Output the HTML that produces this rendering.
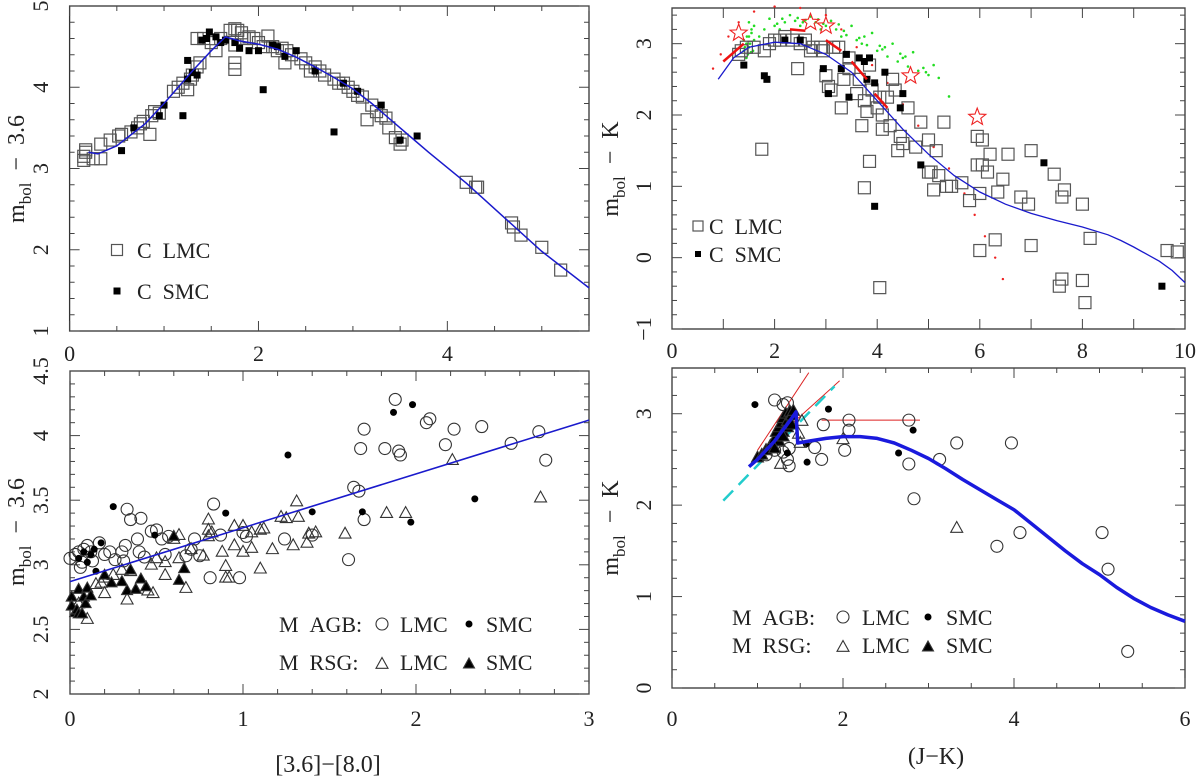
<!DOCTYPE html>
<html><head><meta charset="utf-8"><style>
html,body{margin:0;padding:0;background:#fff;}
svg{display:block;}
text{font-family:"Liberation Serif",serif;fill:#222;white-space:pre;}
</style></head><body>
<svg id="fig" xmlns="http://www.w3.org/2000/svg" width="1200" height="778" viewBox="0 0 1200 778"></svg>
<script>
// ---------- Panel A: C stars, [3.6]-[8.0] vs mbol-3.6 ----------
const aCurveX=[0.2,0.3,0.5,0.8,1.0,1.15,1.3,1.5,1.65,1.8,2.0,2.2,2.4,2.6,2.8,3.0,3.2,3.4,3.6,3.8,4.2,4.6,5.0,5.5];
const aCurveY=[3.2,3.18,3.28,3.55,3.8,4.0,4.2,4.45,4.62,4.57,4.53,4.47,4.37,4.25,4.12,3.98,3.8,3.6,3.4,3.2,2.82,2.4,1.98,1.53];
const aLmcX=[0.15,0.15,0.17,0.17,0.25,0.33,0.33,0.43,0.52,0.55,0.65,0.72,0.75,0.78,0.85,0.87,0.9,0.95,1.1,1.15,1.2,1.25,1.28,1.3,1.35,1.38,1.35,1.42,1.5,1.55,1.6,1.7,1.75,1.78,1.82,1.85,1.9,1.95,2.0,1.75,1.75,1.75,2.05,2.1,2.15,2.2,2.25,2.3,2.28,2.35,2.45,2.5,2.55,2.6,2.65,2.7,2.8,2.85,2.9,2.95,3.0,3.05,3.1,3.15,3.2,3.25,3.3,3.35,3.38,3.45,3.5,3.52,4.2,4.3,4.32,4.68,4.7,4.78,5.0,5.2];
const aLmcY=[3.1,3.15,3.2,3.23,3.12,3.12,3.3,3.35,3.4,3.42,3.45,3.5,3.55,3.58,3.42,3.65,3.7,3.68,3.95,4.0,4.05,3.97,4.1,4.15,4.25,4.3,4.6,4.6,4.55,4.45,4.6,4.7,4.72,4.7,4.67,4.6,4.62,4.6,4.55,4.3,4.22,4.52,4.5,4.63,4.5,4.45,4.48,4.45,4.3,4.4,4.35,4.3,4.2,4.25,4.2,4.15,4.1,4.05,4.05,4.0,3.95,3.9,3.88,3.6,3.78,3.7,3.65,3.62,3.5,3.38,3.3,3.35,2.83,2.77,2.77,2.33,2.28,2.18,2.03,1.75];
const aSmcX=[0.55,0.68,0.95,1.0,1.2,1.25,1.25,1.3,1.35,1.4,1.45,1.48,1.55,1.6,1.65,1.75,1.8,1.9,2.0,2.05,2.15,2.2,2.28,2.4,2.6,2.8,2.9,3.05,3.3,3.5,3.68];
const aSmcY=[3.22,3.5,3.65,3.78,3.65,4.1,4.33,4.18,4.15,4.58,4.6,4.68,4.62,4.55,4.58,4.55,4.48,4.45,4.45,3.97,4.52,4.5,4.38,4.45,4.2,3.45,4.05,3.95,3.78,3.35,3.4];
const aXTicks=["0","2","4"];const aYTicks=["1","2","3","4","5"];

// ---------- Panel B: C stars, J-K vs mbol-K ----------
const bCurveX=[0.9,1.2,1.5,2.0,2.5,3.0,3.5,4.0,4.5,5.0,5.5,6.0,6.5,7.0,7.5,8.0,8.5,8.75,9.0,9.25,9.5,9.75,10.0];
const bCurveY=[2.5,2.8,2.95,3.02,3.0,2.85,2.6,2.2,1.8,1.45,1.15,0.92,0.75,0.62,0.52,0.43,0.32,0.24,0.15,0.05,-0.05,-0.18,-0.35];
const bRedDotX=[0.8,0.95,1.1,1.3,1.6,2.0,2.5,3.0,3.3,3.6,3.9,4.2,4.5,4.8,5.1,5.4,5.7,5.9,6.1,6.3,6.45];
const bRedDotY=[2.65,2.85,3.1,3.3,3.45,3.52,3.5,3.4,3.2,2.95,2.7,2.45,2.15,1.85,1.55,1.25,0.9,0.6,0.3,0.0,-0.3];
const bGreenX=[1.4,1.45,1.5,1.55,1.6,1.45,1.5,1.55,1.4,1.6,1.5,1.48,1.42,1.52,1.58,1.46,1.54,1.8,2.0,2.2,2.4,2.6,2.8,3.0,3.2,3.4,3.6,3.8,4.0,4.2,4.4,4.6,4.8,5.0,5.2,1.9,2.3,2.7,3.1,3.5,3.9,4.3,4.7,5.1,2.1,2.5,2.9,3.3,3.7,4.1,4.5,4.9,5.4,1.7,2.15,2.55,2.95,3.35,3.75,4.15,4.55,4.95,2.05,2.45,2.85,3.25,3.65,4.05,4.45];
const bGreenY=[2.9,3.0,3.1,3.2,3.05,2.8,2.95,3.15,3.05,3.25,3.3,2.85,2.95,3.0,2.9,3.1,2.88,3.2,3.25,3.3,3.32,3.33,3.3,3.25,3.2,3.12,3.05,2.98,2.9,2.82,2.75,2.68,2.62,2.56,2.52,3.35,3.4,3.38,3.32,3.25,3.15,3.0,2.88,2.7,3.2,3.25,3.2,3.1,3.0,2.92,2.8,2.66,2.26,3.1,3.35,3.3,3.28,3.18,3.1,2.95,2.82,2.6,3.28,3.36,3.34,3.27,3.08,2.97,2.86];
const bStarX=[1.3,2.7,3.0,4.65,5.95];
const bStarY=[3.15,3.3,3.25,2.55,1.97];
const bSegX1=[1.0,2.3,3.0,3.5,3.95];const bSegY1=[2.75,3.2,3.05,2.75,2.3];
const bSegX2=[1.4,2.6,3.3,3.8,4.2];const bSegY2=[3.0,3.18,2.9,2.5,2.1];
const bLmcX=[1.3,1.35,1.45,1.6,1.8,1.9,2.0,2.1,2.2,2.35,2.5,2.6,2.7,2.9,2.95,3.0,3.05,3.1,3.15,3.25,3.3,3.35,3.45,3.45,3.6,3.65,3.7,3.75,3.8,3.85,3.9,4.0,4.05,4.1,4.1,4.2,4.25,4.3,4.35,4.4,4.45,4.5,4.6,4.75,4.85,5.0,5.0,5.05,5.1,5.15,5.2,5.3,5.35,5.45,5.65,5.8,5.95,5.95,6.0,6.0,6.05,6.05,6.15,6.2,6.3,6.35,6.45,6.55,6.8,6.95,7.0,7.0,7.45,7.55,7.6,7.6,7.65,8.0,8.0,8.05,8.15,9.65,9.85,4.05,3.75,3.85,1.75,2.45,2.75];
const bLmcY=[2.85,2.9,2.95,2.95,2.9,3.0,3.05,3.05,3.1,3.05,3.0,3.05,2.9,2.95,2.9,2.55,2.4,2.35,2.95,2.95,2.1,2.5,2.8,2.65,2.3,2.5,1.85,2.2,2.05,2.7,2.35,2.1,2.25,1.8,2.0,2.25,1.85,2.5,2.35,1.5,1.7,1.6,2.1,1.55,1.9,1.65,1.2,1.2,0.95,1.5,1.15,1.9,1.0,1.0,1.05,0.8,1.7,1.3,0.9,0.1,1.3,1.65,1.2,1.45,0.25,0.92,1.1,1.45,0.85,0.75,1.5,0.17,1.17,-0.4,-0.3,0.85,0.95,0.75,-0.32,-0.63,0.27,0.1,0.08,-0.42,0.98,1.35,1.52,2.65,2.95];
const bSmcX=[1.4,1.8,1.85,2.2,2.5,2.95,3.05,3.3,3.4,3.45,3.65,3.75,3.8,3.85,3.95,4.15,4.45,4.5,3.95,4.85,7.25,9.55];
const bSmcY=[2.7,2.55,2.5,3.05,3.05,2.65,2.3,2.65,2.85,2.25,2.8,2.75,2.5,2.8,2.45,2.6,2.1,2.3,0.72,1.3,1.33,-0.4];
const bXTicks=["0","2","4","6","8","10"];const bYTicks=["-1","0","1","2","3"];

// ---------- Panel C: M stars, [3.6]-[8.0] vs mbol-3.6 ----------
const cLineX=[0,3];const cLineY=[2.87,4.12];
const cAgbLmcX=[0.0,0.03,0.05,0.06,0.07,0.08,0.1,0.12,0.13,0.17,0.2,0.23,0.26,0.3,0.31,0.32,0.33,0.35,0.39,0.4,0.41,0.43,0.47,0.5,0.53,0.55,0.57,0.67,0.7,0.72,0.75,0.81,0.83,0.87,0.98,1.0,1.02,1.24,1.4,1.61,1.64,1.67,1.7,1.7,1.68,1.82,1.9,1.91,1.88,2.06,2.08,2.17,2.22,2.38,2.55,2.71,2.75];
const cAgbLmcY=[3.05,3.08,3.1,2.98,3.02,3.12,3.15,3.1,3.03,3.17,3.08,3.1,3.04,3.1,3.03,3.15,3.43,3.35,3.2,3.1,3.36,3.06,3.26,3.27,3.2,3.08,3.22,3.07,3.12,3.2,3.07,2.9,3.47,3.23,2.9,3.25,3.22,3.2,3.23,3.04,3.6,3.57,3.35,4.05,3.9,3.9,3.88,3.85,4.28,4.1,4.13,3.93,4.05,4.07,3.94,4.03,3.81];
const cAgbSmcX=[0.05,0.08,0.1,0.12,0.14,0.15,0.18,0.25,0.49,0.9,1.26,1.4,1.69,1.87,1.97,1.98,2.34];
const cAgbSmcY=[3.05,3.1,3.02,3.08,3.12,2.95,3.17,3.45,3.23,3.4,3.85,3.41,3.41,4.18,3.33,4.24,3.51];
const cRsgLmcX=[0.05,0.1,0.15,0.18,0.2,0.3,0.33,0.35,0.45,0.47,0.48,0.5,0.55,0.55,0.6,0.63,0.63,0.67,0.7,0.77,0.8,0.8,0.8,0.82,0.88,0.9,0.9,0.92,0.95,0.95,1.0,1.0,1.05,1.05,1.1,1.12,1.1,1.17,1.22,1.25,1.29,1.31,1.32,1.37,1.38,1.42,1.59,1.83,1.94,2.21,2.72,0.2,0.25];
const cRsgLmcY=[2.7,2.58,2.85,2.86,2.78,2.96,2.73,2.95,2.8,3.0,2.78,3.05,3.02,2.92,3.2,3.23,3.05,2.82,3.12,3.07,3.22,3.35,3.27,3.25,3.1,2.99,2.9,2.9,3.3,3.15,3.3,3.1,3.25,3.13,3.27,3.28,2.97,3.12,3.37,3.36,3.15,3.49,3.37,3.17,3.24,3.25,3.24,3.4,3.4,3.81,3.52,2.9,2.92];
const cRsgSmcX=[0.01,0.01,0.03,0.04,0.05,0.05,0.07,0.08,0.09,0.1,0.12,0.2,0.24,0.3,0.33,0.35,0.38,0.41,0.44,0.6,0.63,0.66];
const cRsgSmcY=[2.75,2.68,2.63,2.65,2.81,2.62,2.62,2.75,2.7,2.82,2.76,2.92,2.86,2.87,2.8,2.96,2.81,2.89,2.83,3.22,2.88,2.97];
const cXTicks=["0","1","2","3"];const cYTicks=["2","2.5","3","3.5","4","4.5"];

// ---------- Panel D: M stars, J-K vs mbol-K ----------
const dCurveX=[0.9,1.0,1.2,1.4,1.45,1.47,1.6,1.8,2.0,2.2,2.4,2.6,2.8,3.0,3.2,3.4,3.6,3.8,4.0,4.2,4.4,4.6,4.8,5.0,5.2,5.4,5.6,5.8,6.0];
const dCurveY=[2.42,2.5,2.7,2.95,3.02,2.68,2.7,2.73,2.75,2.75,2.73,2.68,2.6,2.51,2.4,2.28,2.17,2.06,1.95,1.8,1.65,1.5,1.36,1.24,1.1,0.98,0.88,0.8,0.73];
const dRedX1=[1.0,1.0,1.75];const dRedY1=[2.6,2.55,2.93];
const dRedX2=[1.6,1.96,2.9];const dRedY2=[3.45,3.36,2.93];
const dCyanX=[0.6,1.9];const dCyanY=[2.05,3.3];
const dAgbLmcX=[1.2,1.3,1.35,1.1,1.2,1.3,1.35,1.37,1.37,1.77,1.75,1.67,2.02,2.07,2.07,2.77,2.77,2.83,3.13,3.33,3.8,3.97,4.07,5.03,5.1,5.33];
const dAgbLmcY=[3.15,3.1,3.12,2.55,2.6,2.58,2.5,2.43,2.62,2.88,2.5,2.63,2.6,2.82,2.93,2.93,2.45,2.07,2.5,2.68,1.55,2.68,1.7,1.7,1.3,0.4];
const dAgbSmcX=[0.97,1.83,1.35,1.58,1.57,2.65,2.82];
const dAgbSmcY=[3.1,3.05,2.57,2.47,2.67,2.57,2.82];
const dRsgLmcX=[1.27,1.52,1.48,1.5,2.0,3.33,1.1];
const dRsgLmcY=[2.45,2.92,2.78,2.68,2.72,1.75,2.6];
const dRsgSmcX=[1.0,1.05,1.1,1.15,1.2,1.22,1.25,1.28,1.3,1.33,1.35,1.38,1.4,1.42,1.3,1.35,1.25,1.4,1.2,1.3];
const dRsgSmcY=[2.52,2.55,2.6,2.65,2.72,2.8,2.85,2.9,2.95,3.0,2.92,3.02,2.98,3.03,2.8,2.85,2.7,2.88,2.62,2.75];
const dXTicks=["0","2","4","6"];const dYTicks=["0","1","2","3"];

const NS="http://www.w3.org/2000/svg";
const svg=document.getElementById('fig');
const SP='\u00a0\u00a0';
function el(tag,attrs,parent){const e=document.createElementNS(NS,tag);for(const k in attrs)e.setAttribute(k,attrs[k]);(parent||svg).appendChild(e);return e;}
function txt(s,x,y,attrs,parent){const t=el('text',Object.assign({x:x,y:y},attrs||{}),parent);t.textContent=s;return t;}

function makePanel(name,L,R,T,B,xmin,xmax,ymin,ymax){
  const g=el('g',{});
  
  
  const sx=v=>L+(v-xmin)/(xmax-xmin)*(R-L);
  const sy=v=>B-(v-ymin)/(ymax-ymin)*(B-T);
  return {g,sx,sy,L,R,T,B,xmin,xmax,ymin,ymax};
}
function frame(p,xMinor,yMinor,xMajor,yMajor){
  const f=el('rect',{x:p.L,y:p.T,width:p.R-p.L,height:p.B-p.T,fill:'none',stroke:'#333','stroke-width':1.3},p.g);
  
  
  const tg=el('g',{stroke:'#444','stroke-width':1},p.g);
  
  
  for(let v=p.xmin;v<=p.xmax+1e-9;v+=xMinor){
    const big=Math.abs(v/xMajor-Math.round(v/xMajor))<1e-6;const len=big?10:5;const x=p.sx(v);
    el('line',{x1:x,x2:x,y1:p.B,y2:p.B-len},tg);el('line',{x1:x,x2:x,y1:p.T,y2:p.T+len},tg);
  }
  for(let v=p.ymin;v<=p.ymax+1e-9;v+=yMinor){
    const big=Math.abs(v/yMajor-Math.round(v/yMajor))<1e-6;const len=big?10:5;const y=p.sy(v);
    el('line',{y1:y,y2:y,x1:p.L,x2:p.L+len},tg);el('line',{y1:y,y2:y,x1:p.R,x2:p.R-len},tg);
  }
}
function xLabels(p,ticks,y){
  ticks.forEach(s=>{const t=txt(s,p.sx(parseFloat(s)),y,{'font-size':22,'text-anchor':'middle'},p.g);
    
    });
}
function yLabels(p,ticks,x){
  ticks.forEach(s=>{const v=parseFloat(s);const y=p.sy(v);
    const lab=s.replace('-','\u2212');
    const t=txt(lab,x,y,{'font-size':22,'text-anchor':'middle',transform:`rotate(-90 ${x} ${y})`},p.g);
    
    });
}
function yTitle(p,x,y,sub){
  const t=el('text',{x:x,y:y,'font-size':24,'text-anchor':'middle',transform:`rotate(-90 ${x} ${y})`},p.g);
  
  
  const a=el('tspan',{},t);a.textContent='m';
  const b=el('tspan',{dy:7,'font-size':17},t);b.textContent='bol';
  const c=el('tspan',{dy:-7},t);c.textContent=SP+'\u2212'+SP+sub;
}
function line(p,xs,ys,attrs,name){
  const d=xs.map((x,i)=>(i?'L':'M')+p.sx(x).toFixed(1)+','+p.sy(ys[i]).toFixed(1)).join(' ');
  const e=el('path',Object.assign({d:d,fill:'none'},attrs),p.g);
  
  
  return e;
}
function marker(p,type,x,y,sz,parent){
  if(type==='sq'){el('rect',{x:x-sz/2,y:y-sz/2,width:sz,height:sz,fill:'none',stroke:'#555','stroke-width':1.2},parent);}
  else if(type==='fsq'){el('rect',{x:x-sz/2,y:y-sz/2,width:sz,height:sz,fill:'#000'},parent);}
  else if(type==='oc'){el('circle',{cx:x,cy:y,r:sz,fill:'none',stroke:'#333','stroke-width':1.1},parent);}
  else if(type==='fc'){el('circle',{cx:x,cy:y,r:sz,fill:'#000'},parent);}
  else if(type==='ot'||type==='ft'){const h=sz*0.9;
    el('polygon',{points:`${x},${y-h*0.6} ${x-sz/2},${y+h*0.4} ${x+sz/2},${y+h*0.4}`,fill:type==='ft'?'#000':'none',stroke:'#333','stroke-width':1.1},parent);}
  else if(type==='dot'){el('circle',{cx:x,cy:y,r:sz,fill:parent._col||'#0c0'},parent);}
  else if(type==='star'){let pts=[];for(let i=0;i<10;i++){const r=i%2?sz*0.42:sz;const a=-Math.PI/2+i*Math.PI/5;pts.push((x+r*Math.cos(a)).toFixed(1)+','+(y+r*Math.sin(a)).toFixed(1));}
    el('polygon',{points:pts.join(' '),fill:'none',stroke:'#e22','stroke-width':1.1},parent);}
}
function scatter(p,xs,ys,type,sz,name,col){
  const g=el('g',{},p.g);
  
  
  g._col=col;
  xs.forEach((x,i)=>marker(p,type,p.sx(x),p.sy(ys[i]),sz,g));
  return g;
}

// Panel A
const A=makePanel('panel-c-stars-irac',69.6,589,6,331,0,5.5,1,5);
frame(A,0.5,0.2,2,1);
xLabels(A,aXTicks,361);yLabels(A,aYTicks,48);yTitle(A,24,169,'3.6');
scatter(A,aLmcX,aLmcY,'sq',12,'c-lmc-points');
scatter(A,aSmcX,aSmcY,'fsq',7,'c-smc-points');
line(A,aCurveX,aCurveY,{stroke:'#1a1acc','stroke-width':1.5},'fit-curve');
(function(){const g=el('g',{},A.g);


marker(A,'sq',117,250,11,g);txt('C'+SP+'LMC',137,258,{'font-size':22},g);
marker(A,'fsq',117,291,7,g);txt('C'+SP+'SMC',137,299,{'font-size':22},g);})();

// Panel B
const Bp=makePanel('panel-c-stars-jk',672,1185,8,329,0,10,-1,3.5);
frame(Bp,1,0.2,1,1);
xLabels(Bp,bXTicks,358);yLabels(Bp,bYTicks,651);yTitle(Bp,618,169,'K');
scatter(Bp,bGreenX,bGreenY,'dot',1.3,'model-green-points','#22dd22');
scatter(Bp,bRedDotX,bRedDotY,'dot',1.2,'red-dotted-track','#e22');
scatter(Bp,bLmcX,bLmcY,'sq',12,'c-lmc-points');
scatter(Bp,bSmcX,bSmcY,'fsq',7,'c-smc-points');
bSegX1.forEach((x,i)=>line(Bp,[x,bSegX2[i]],[bSegY1[i],bSegY2[i]],{stroke:'#e11','stroke-width':2.5},'red-segment'));
scatter(Bp,bStarX,bStarY,'star',9,'red-star-markers');
line(Bp,bCurveX,bCurveY,{stroke:'#1a1acc','stroke-width':1.3},'fit-curve');
(function(){const g=el('g',{},Bp.g);


marker(Bp,'sq',698,226,10,g);txt('C'+SP+'LMC',709,234,{'font-size':22},g);
marker(Bp,'fsq',698,254,6,g);txt('C'+SP+'SMC',709,262,{'font-size':22},g);})();

// Panel C
const C=makePanel('panel-m-stars-irac',70,589,371,694,0,3,2,4.5);
frame(C,0.2,0.1,1,0.5);
xLabels(C,cXTicks,726);yLabels(C,cYTicks,48);yTitle(C,24,532,'3.6');
scatter(C,cAgbLmcX,cAgbLmcY,'oc',6,'m-agb-lmc-points');
scatter(C,cAgbSmcX,cAgbSmcY,'fc',3.5,'m-agb-smc-points');
scatter(C,cRsgLmcX,cRsgLmcY,'ot',12,'m-rsg-lmc-points');
scatter(C,cRsgSmcX,cRsgSmcY,'ft',11,'m-rsg-smc-points');
line(C,cLineX,cLineY,{stroke:'#1a1acc','stroke-width':1.6},'fit-line');
(function(){const g=el('g',{},C.g);


txt('M'+SP+'AGB:',279,632,{'font-size':22},g);marker(C,'oc',382,624,6,g);txt('LMC',400,632,{'font-size':22},g);
marker(C,'fc',469,624,3.5,g);txt('SMC',486,632,{'font-size':22},g);
txt('M'+SP+'RSG:',279,670,{'font-size':22},g);marker(C,'ot',382,664,12,g);txt('LMC',400,670,{'font-size':22},g);
marker(C,'ft',469,664,11,g);txt('SMC',486,670,{'font-size':22},g);})();
(function(){const t=txt('[3.6]\u2212[8.0]',328,772,{'font-size':24,'text-anchor':'middle'});

})();

// Panel D
const D=makePanel('panel-m-stars-jk',672,1185,368,688,0,6,0,3.5);
frame(D,0.5,0.2,2,1);
xLabels(D,dXTicks,726);yLabels(D,dYTicks,651);yTitle(D,618,528,'K');
dRedX1.forEach((x,i)=>line(D,[x,dRedX2[i]],[dRedY1[i],dRedY2[i]],{stroke:'#d22','stroke-width':1},'red-track'));
line(D,dCyanX,dCyanY,{stroke:'#22cccc','stroke-width':2.5,'stroke-dasharray':'14 8'},'cyan-dashed-track');
scatter(D,dAgbLmcX,dAgbLmcY,'oc',6,'m-agb-lmc-points');
scatter(D,dAgbSmcX,dAgbSmcY,'fc',3.5,'m-agb-smc-points');
scatter(D,dRsgLmcX,dRsgLmcY,'ot',12,'m-rsg-lmc-points');
scatter(D,dRsgSmcX,dRsgSmcY,'ft',12,'m-rsg-smc-points');
line(D,dCurveX,dCurveY,{stroke:'#1a1add','stroke-width':3.5,'stroke-linejoin':'round'},'fit-curve');
(function(){const g=el('g',{},D.g);


txt('M'+SP+'AGB:',732,625,{'font-size':22},g);marker(D,'oc',843,617,6,g);txt('LMC',862,625,{'font-size':22},g);
marker(D,'fc',928,617,3.5,g);txt('SMC',946,625,{'font-size':22},g);
txt('M'+SP+'RSG:',732,653,{'font-size':22},g);marker(D,'ot',843,647,12,g);txt('LMC',862,653,{'font-size':22},g);
marker(D,'ft',928,647,11,g);txt('SMC',946,653,{'font-size':22},g);})();
(function(){const t=txt('(J\u2212K)',936,764,{'font-size':24,'text-anchor':'middle'});

})();
</script>
</body></html>
